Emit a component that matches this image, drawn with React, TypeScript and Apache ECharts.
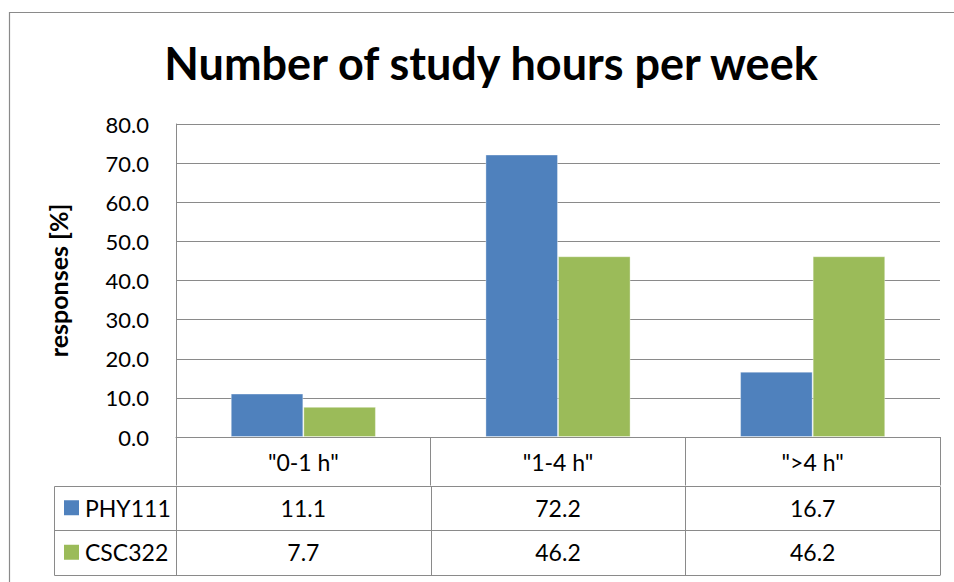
import React, { useEffect, useRef } from "react";
import * as echarts from "echarts";

const TITLE = "Number of study hours per week";
const Y_NAME = "responses [%]";
const categories = ['"0-1 h"', '"1-4 h"', '">4 h"'];
const seriesNames = ["PHY111", "CSC322"];
const phy111 = [11.1, 72.2, 16.7];
const csc322 = [7.7, 46.2, 46.2];
const seriesColors = ["#4F81BD", "#9BBB59"];
const Y_MIN = 0;
const Y_MAX = 80;
const Y_INTERVAL = 10;

export default function App() {
  const ref = useRef<HTMLDivElement>(null);
  useEffect(() => {
    const chart = echarts.init(ref.current!, null, { renderer: "svg" });
    const font = "Lato, 'Open Sans', sans-serif";
    const lineColor = "#8a8a8a";
    const values = [phy111, csc322];

    chart.setOption({
      animation: false,
      backgroundColor: "#ffffff",
      grid: { left: 176, right: 14, top: 124, bottom: 145, containLabel: false },
      xAxis: {
        type: "category",
        data: categories,
        axisLine: { show: true, lineStyle: { color: lineColor, width: 1 } },
        axisTick: { show: true, length: 48.5, lineStyle: { color: lineColor, width: 1 } },
        axisLabel: { color: "#000", fontFamily: font, fontSize: 23, margin: 13 },
        splitLine: { show: false },
      },
      yAxis: {
        type: "value",
        min: Y_MIN,
        max: Y_MAX,
        interval: Y_INTERVAL,
        name: Y_NAME,
        nameLocation: "middle",
        nameRotate: 90,
        nameGap: 106,
        nameTextStyle: { color: "#000", fontFamily: font, fontSize: 25, fontWeight: "bold" },
        axisLine: { show: true, lineStyle: { color: lineColor, width: 1 } },
        axisTick: { show: false },
        axisLabel: {
          color: "#000",
          fontFamily: font,
          fontSize: 22,
          margin: 27,
          formatter: (v: number) => v.toFixed(1),
        },
        splitLine: { show: true, lineStyle: { color: lineColor, width: 1 } },
      },
      series: seriesNames.map((name, i) => ({
        name,
        type: "bar",
        data: values[i],
        barGap: "0%",
        barCategoryGap: "43%",
        itemStyle: { color: seriesColors[i], borderColor: "rgba(255,255,255,0.35)", borderWidth: 1 },
      })),
    });

    const centers = categories.map((_, i) => chart.convertToPixel({ xAxisIndex: 0 }, i) as number);
    const half = (centers[1] - centers[0]) / 2;
    const bounds = [centers[0] - half, ...centers.map((c) => c + half)];
    const y0 = chart.convertToPixel({ yAxisIndex: 0 }, Y_MIN) as number;
    const headerBottom = y0 + 48.5;
    const rowH = 44.5;
    const legendLeft = 54.5;
    const tableBottom = headerBottom + rowH * seriesNames.length;

    const line = (x1: number, y1: number, x2: number, y2: number) => ({
      type: "line",
      silent: true,
      shape: { x1, y1, x2, y2 },
      style: { stroke: lineColor, lineWidth: 1 },
    });
    const text = (x: number, y: number, str: string, opts: any = {}) => ({
      type: "text",
      silent: true,
      x,
      y,
      style: {
        text: str,
        fill: "#000",
        fontFamily: font,
        fontSize: 23,
        align: "center",
        textAlign: "center",
        verticalAlign: "middle",
        textVerticalAlign: "middle",
        ...opts,
      },
    });

    const g: any[] = [];
    g.push({
      type: "rect",
      silent: true,
      shape: { x: 9.5, y: 12.5, width: 1200, height: 1200 },
      style: { fill: "none", stroke: lineColor, lineWidth: 1.2 },
    });
    g.push(text(491, 63, TITLE, { fontSize: 45, fontWeight: "bold" }));
    for (let r = 0; r <= seriesNames.length; r++) {
      const y = Math.round(headerBottom + r * rowH) + 0.5;
      g.push(line(legendLeft, y, bounds[bounds.length - 1], y));
    }
    g.push(line(legendLeft, Math.round(headerBottom) + 0.5, legendLeft, Math.round(tableBottom) + 0.5));
    bounds.forEach((b) => {
      const x = Math.round(b) + 0.5;
      g.push(line(x, Math.round(headerBottom) + 0.5, x, Math.round(tableBottom) + 0.5));
    });
    seriesNames.forEach((name, i) => {
      const cy = headerBottom + rowH * (i + 0.5);
      g.push({
        type: "rect",
        silent: true,
        shape: { x: 64, y: cy - 7.5, width: 15, height: 15 },
        style: { fill: seriesColors[i] },
      });
      g.push(text(85, cy, name, { align: "left", textAlign: "left" }));
      values[i].forEach((v, j) => {
        g.push(text(centers[j], cy, v.toFixed(1)));
      });
    });

    chart.setOption({ graphic: g });
    return () => chart.dispose();
  }, []);

  return (
    <div
      ref={ref}
      style={{ position: "absolute", left: 0, top: 0, width: 954, height: 582 }}
    />
  );
}
